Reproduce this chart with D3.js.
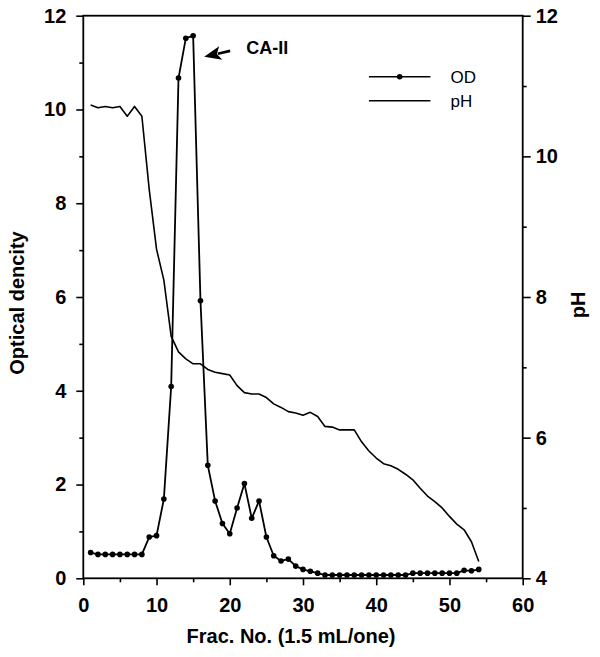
<!DOCTYPE html>
<html>
<head>
<meta charset="utf-8">
<script src="https://cdn.jsdelivr.net/npm/d3@7"></script>
<style>
  html, body { margin: 0; padding: 0; background: #fff; }
  svg { display: block; }
  text { font-family: "Liberation Sans", Arial, Helvetica, sans-serif; }
</style>
</head>
<body>
<svg id="chart" width="600" height="657"></svg>
<script>
// ---- data ----
const fractions = d3.range(1, 55); // fraction numbers 1..54
const odValues = [
  0.55, 0.51, 0.51, 0.51, 0.51, 0.51, 0.51, 0.51, 0.88, 0.91,
  1.69, 4.09, 10.67, 11.52, 11.57, 5.92, 2.41, 1.65, 1.17, 0.95,
  1.50, 2.02, 1.28, 1.65, 0.88, 0.48, 0.37, 0.41, 0.26, 0.19,
  0.15, 0.11, 0.07, 0.07, 0.07, 0.07, 0.07, 0.07, 0.07, 0.07,
  0.07, 0.07, 0.07, 0.07, 0.11, 0.11, 0.11, 0.11, 0.11, 0.11,
  0.11, 0.17, 0.16, 0.19
];
const phValues = [
  10.73, 10.69, 10.71, 10.69, 10.71, 10.57, 10.71, 10.57, 9.53, 8.68,
  8.24, 7.44, 7.22, 7.12, 7.05, 7.05, 6.97, 6.93, 6.91, 6.89,
  6.74, 6.64, 6.62, 6.62, 6.57, 6.48, 6.43, 6.37, 6.35, 6.32,
  6.36, 6.30, 6.16, 6.15, 6.11, 6.11, 6.11, 5.94, 5.81, 5.71,
  5.63, 5.60, 5.55, 5.48, 5.40, 5.28, 5.17, 5.09, 5.00, 4.88,
  4.77, 4.69, 4.52, 4.24
];
const xMajorTicks = [0, 10, 20, 30, 40, 50, 60];
const xMinorTicks = [5, 15, 25, 35, 45, 55];
const yLeftMajorTicks = [0, 2, 4, 6, 8, 10, 12];
const yLeftMinorTicks = [1, 3, 5, 7, 9, 11];
const yRightMajorTicks = [4, 6, 8, 10, 12];
const yRightMinorTicks = [5, 7, 9, 11];
const seriesNames = ["OD", "pH"];
const xTitle = "Frac. No. (1.5 mL/one)";
const yLeftTitle = "Optical dencity";
const yRightTitle = "pH";
const annotation = { label: "CA-II", fraction: 15, od: 11.57 };

// ---- layout ----
const L = 83.3, R = 522.7, T = 15.7, B = 578.3;
const svg = d3.select("#chart");
const x = d3.scaleLinear().domain([0, 60]).range([L, R]);
const yL = d3.scaleLinear().domain([0, 12]).range([B, T]);
const yR = d3.scaleLinear().domain([4, 12]).range([B, T]);

const od = fractions.map((f, i) => ({ f, v: odValues[i] }));
const ph = fractions.map((f, i) => ({ f, v: phValues[i] }));

function styleAxis(g, fs) {
  g.select(".domain").remove();
  g.selectAll("line").attr("stroke", "#000").attr("stroke-width", 1.6);
  g.selectAll("text").attr("fill", "#000").style("font-size", fs + "px").style("font-weight", "bold");
}

// x axis
svg.append("g").attr("transform", `translate(0,${B})`)
  .call(d3.axisBottom(x).tickValues(xMajorTicks).tickSize(7).tickPadding(12.5).tickFormat(d3.format("d")))
  .call(g => styleAxis(g, 20));
svg.append("g").attr("transform", `translate(0,${B})`)
  .call(d3.axisBottom(x).tickValues(xMinorTicks).tickSize(4).tickFormat(""))
  .call(g => styleAxis(g, 20));

// left axis
svg.append("g").attr("transform", `translate(${L},0)`)
  .call(d3.axisLeft(yL).tickValues(yLeftMajorTicks).tickSize(7).tickPadding(10).tickFormat(d3.format("d")))
  .call(g => styleAxis(g, 20));
svg.append("g").attr("transform", `translate(${L},0)`)
  .call(d3.axisLeft(yL).tickValues(yLeftMinorTicks).tickSize(4).tickFormat(""))
  .call(g => styleAxis(g, 20));

// right axis
svg.append("g").attr("transform", `translate(${R},0)`)
  .call(d3.axisRight(yR).tickValues(yRightMajorTicks).tickSize(8).tickPadding(5).tickFormat(d3.format("d")))
  .call(g => styleAxis(g, 20));
svg.append("g").attr("transform", `translate(${R},0)`)
  .call(d3.axisRight(yR).tickValues(yRightMinorTicks).tickSize(4).tickFormat(""))
  .call(g => styleAxis(g, 20));

// frame
svg.append("rect").attr("x", L).attr("y", T).attr("width", R - L).attr("height", B - T)
  .attr("fill", "none").attr("stroke", "#000").attr("stroke-width", 1.8);

// pH line
svg.append("path").datum(ph)
  .attr("fill", "none").attr("stroke", "#000").attr("stroke-width", 1.6).attr("stroke-linejoin", "round")
  .attr("d", d3.line().x(d => x(d.f)).y(d => yR(d.v)));

// OD line + markers
svg.append("path").datum(od)
  .attr("fill", "none").attr("stroke", "#000").attr("stroke-width", 1.8).attr("stroke-linejoin", "round")
  .attr("d", d3.line().x(d => x(d.f)).y(d => yL(d.v)));
svg.append("g").selectAll("circle").data(od).join("circle")
  .attr("cx", d => x(d.f)).attr("cy", d => yL(d.v)).attr("r", 2.8).attr("fill", "#000");

// legend
const lg = svg.append("g");
const legX1 = x(39), legX2 = x(47.4);
const legY = [76.7, 100.7];
seriesNames.forEach((name, i) => {
  lg.append("line").attr("x1", legX1).attr("x2", legX2).attr("y1", legY[i]).attr("y2", legY[i])
    .attr("stroke", "#000").attr("stroke-width", 1.6);
  if (i === 0) lg.append("circle").attr("cx", (legX1 + legX2) / 2).attr("cy", legY[i]).attr("r", 2.8).attr("fill", "#000");
  lg.append("text").attr("x", legX2 + 20).attr("y", legY[i] + 6.5)
    .style("font-size", "17px").attr("fill", "#000").text(name);
});

// annotation arrow + label
const tipX = x(annotation.fraction) + 11, tipY = yL(annotation.od) + 21;
const tailX = tipX + 26, tailY = tipY - 6;
const ang = Math.atan2(tipY - tailY, tipX - tailX);
const hl = 17, hw = 7;
const bx = tipX - hl * Math.cos(ang), by = tipY - hl * Math.sin(ang);
svg.append("line").attr("x1", tailX).attr("y1", tailY).attr("x2", bx + 3 * Math.cos(ang)).attr("y2", by + 3 * Math.sin(ang))
  .attr("stroke", "#000").attr("stroke-width", 2.6);
svg.append("path").attr("fill", "#000")
  .attr("d", `M${tipX},${tipY} L${bx - hw * Math.sin(ang)},${by + hw * Math.cos(ang)} L${bx + 4 * Math.cos(ang)},${by + 4 * Math.sin(ang)} L${bx + hw * Math.sin(ang)},${by - hw * Math.cos(ang)} Z`);
svg.append("text").attr("x", tailX + 16).attr("y", tipY - 3)
  .style("font-size", "18px").style("font-weight", "bold").attr("fill", "#000").text(annotation.label);

// axis titles
svg.append("text").attr("x", 291).attr("y", 643).attr("text-anchor", "middle")
  .style("font-size", "20px").style("font-weight", "bold").text(xTitle);
svg.append("text").attr("transform", `translate(24,303) rotate(-90)`).attr("text-anchor", "middle")
  .style("font-size", "20px").style("font-weight", "bold").text(yLeftTitle);
svg.append("text").attr("transform", `translate(585,305) rotate(-90)`).attr("text-anchor", "middle")
  .style("font-size", "20px").style("font-weight", "bold").text(yRightTitle);
</script>
</body>
</html>
